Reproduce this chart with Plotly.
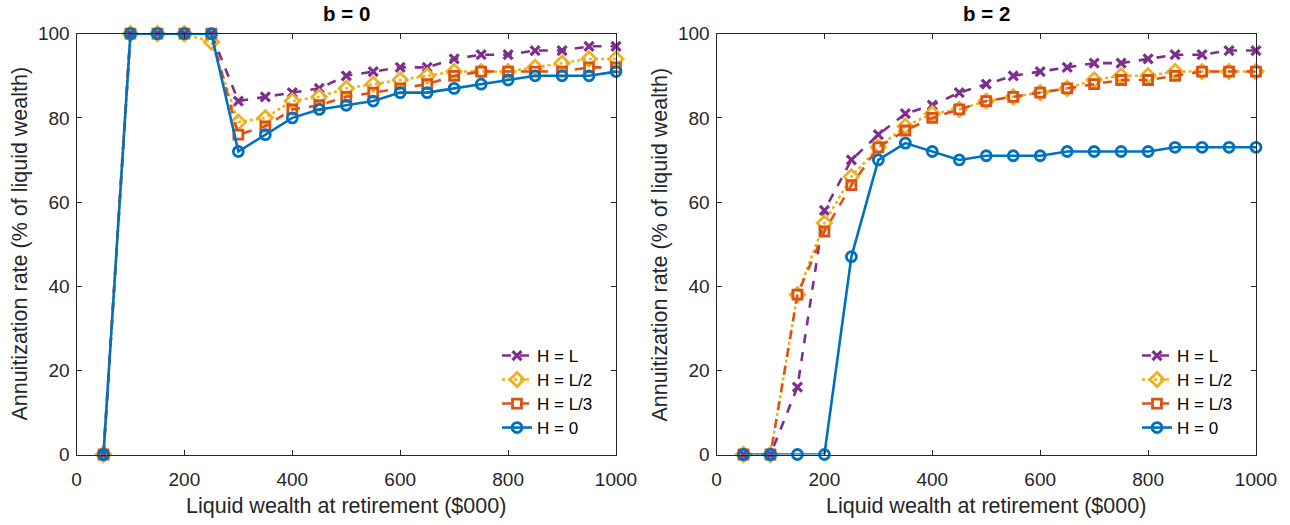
import plotly.graph_objects as go

# Liquid wealth at retirement ($000)
wealth = [50, 100, 150, 200, 250, 300, 350, 400, 450, 500,
          550, 600, 650, 700, 750, 800, 850, 900, 950, 1000]

# Annuitization rate (% of liquid wealth), b = 0
b0_h_l = [0, 100, 100, 100, 100, 84, 85, 86, 87, 90, 91, 92, 92, 94, 95, 95, 96, 96, 97, 97]
b0_h_l2 = [0, 100, 100, 100, 98, 79, 80, 84, 85, 87, 88, 89, 90, 91, 91, 91, 92, 93, 94, 94]
b0_h_l3 = [0, 100, 100, 100, 100, 76, 78, 82, 83, 85, 86, 87, 88, 90, 91, 91, 91, 91, 92, 92]
b0_h_0 = [0, 100, 100, 100, 100, 72, 76, 80, 82, 83, 84, 86, 86, 87, 88, 89, 90, 90, 90, 91]

# Annuitization rate (% of liquid wealth), b = 2
b2_h_l = [0, 0, 16, 58, 70, 76, 81, 83, 86, 88, 90, 91, 92, 93, 93, 94, 95, 95, 96, 96]
b2_h_l2 = [0, 0, 38, 55, 66, 73, 78, 81, 82, 84, 85, 86, 87, 89, 90, 90, 91, 91, 91, 91]
b2_h_l3 = [0, 0, 38, 53, 64, 73, 77, 80, 82, 84, 85, 86, 87, 88, 89, 89, 90, 91, 91, 91]
b2_h_0 = [0, 0, 0, 0, 47, 70, 74, 72, 70, 71, 71, 71, 72, 72, 72, 72, 73, 73, 73, 73]

series_names = ["H = L", "H = L/2", "H = L/3", "H = 0"]
panel_titles = ["b = 0", "b = 2"]
x_title = "Liquid wealth at retirement ($000)"
y_title = "Annuitization rate (% of liquid wealth)"
x_ticks = [0, 200, 400, 600, 800, 1000]
y_ticks = [0, 20, 40, 60, 80, 100]

styles = [
    dict(color="#7E2F8E", dash="dash", symbol="x-thin-open", size=9, lw=3.2),
    dict(color="#EDB120", dash="dot", symbol="diamond-open", size=11, lw=2.8),
    dict(color="#D95319", dash="dash", symbol="square-open", size=9, lw=2.8),
    dict(color="#0072BD", dash="solid", symbol="circle-open", size=10, lw=2.8),
]

panels = [
    [b0_h_l, b0_h_l2, b0_h_l3, b0_h_0],
    [b2_h_l, b2_h_l2, b2_h_l3, b2_h_0],
]

W, H = 1290, 525
FONT = "Liberation Sans, Arial, Helvetica, sans-serif"
AX = "#262626"

fig = go.Figure()

x_px = [[76.5, 616.0], [716.5, 1256.0]]
x_domains = [[a / W, b / W] for a, b in x_px]
y_domain = [70.5 / H, 491.3 / H]

# one single-entry legend per series so the rows sit at fixed positions
legend_rows = [356, 380, 404, 428]
legend_left = 497

layout_legends = {}
k = 0
for p, data in enumerate(panels):
    xa = "x" if p == 0 else "x2"
    ya = "y" if p == 0 else "y2"
    for i, (name, vals, st) in enumerate(zip(series_names, data, styles)):
        k += 1
        lg = "legend" if k == 1 else "legend%d" % k
        fig.add_trace(go.Scatter(
            x=wealth, y=vals, name=name, mode="lines+markers",
            xaxis=xa, yaxis=ya,
            line=dict(color=st["color"], dash=st["dash"], width=2.6),
            marker=dict(symbol=st["symbol"], size=st["size"],
                        color=st["color"],
                        line=dict(color=st["color"], width=st["lw"])),
            legend=lg,
            cliponaxis=False,
        ))
        layout_legends[lg] = dict(
            x=(legend_left + (x_px[p][0] - x_px[0][0])) / W,
            y=(H - legend_rows[i]) / H,
            xanchor="left", yanchor="middle",
            bgcolor="rgba(255,255,255,0)", borderwidth=0,
            font=dict(family=FONT, size=17, color="#000000"),
            itemwidth=30,
        )

axis_common = dict(
    showgrid=False, zeroline=False, showline=True, mirror="ticks",
    linecolor=AX, linewidth=1, ticks="inside", ticklen=5, tickcolor=AX,
    tickfont=dict(family=FONT, size=19, color=AX), automargin=False,
)

for p in range(2):
    sfx = "" if p == 0 else "2"
    fig.update_layout(**{
        "xaxis" + sfx: dict(domain=x_domains[p], range=[0, 1000],
                            tickvals=x_ticks, anchor="y" + sfx,
                            ticklabelstandoff=8, **axis_common),
        "yaxis" + sfx: dict(domain=y_domain, range=[0, 100],
                            tickvals=y_ticks, anchor="x" + sfx,
                            ticklabelstandoff=2, **axis_common),
    })
    cx = (x_px[p][0] + x_px[p][1]) / 2
    # panel title
    fig.add_annotation(
        text="<b>" + panel_titles[p] + "</b>", showarrow=False,
        xref="paper", yref="paper", x=cx / W, y=(H - 13) / H,
        xanchor="center", yanchor="middle",
        font=dict(family=FONT, size=20.5, color="#000000"),
    )
    # x-axis title
    fig.add_annotation(
        text=x_title, showarrow=False,
        xref="paper", yref="paper", x=cx / W, y=(H - 506) / H,
        xanchor="center", yanchor="middle",
        font=dict(family=FONT, size=21.5, color=AX),
    )
    # y-axis title
    fig.add_annotation(
        text=y_title, showarrow=False, textangle=-90,
        xref="paper", yref="paper", x=(x_px[p][0] - 56) / W,
        y=(y_domain[0] + y_domain[1]) / 2,
        xanchor="center", yanchor="middle",
        font=dict(family=FONT, size=21.5, color=AX),
    )

fig.update_layout(
    **layout_legends,
    width=W, height=H,
    margin=dict(l=0, r=0, t=0, b=0),
    paper_bgcolor="white", plot_bgcolor="white",
    showlegend=True,
)

fig.write_html("out.html")
